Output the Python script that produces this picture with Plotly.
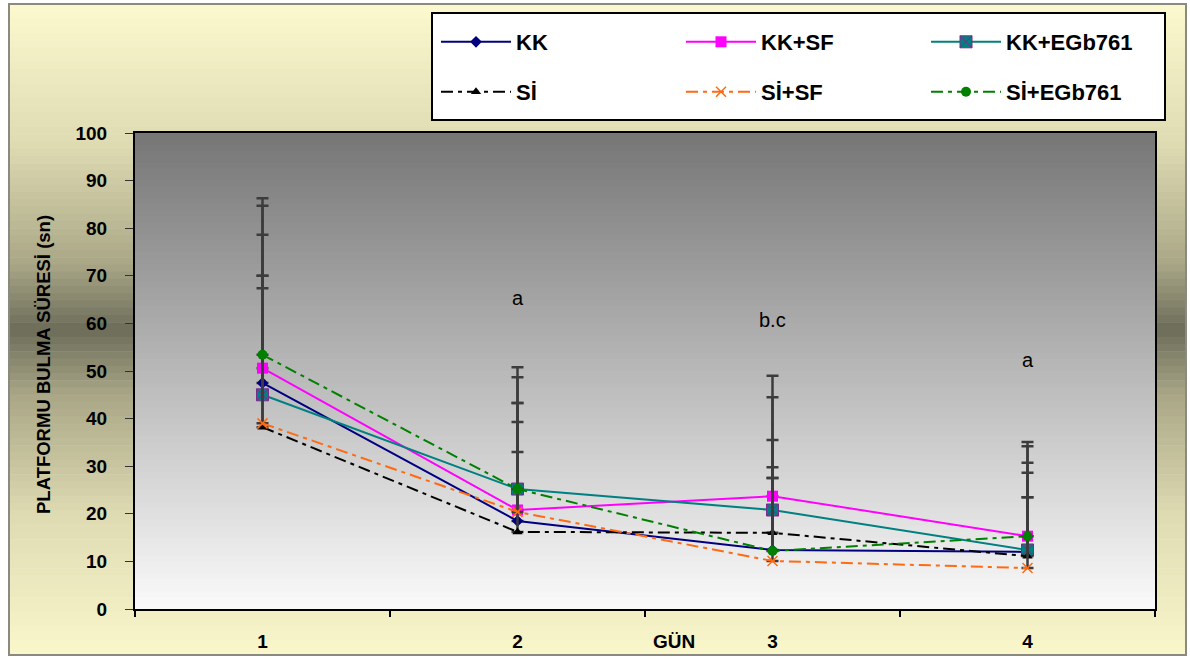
import plotly.graph_objects as go

# ---------------- data ----------------
days = ["1", "2", "3", "4"]
series_names = ["KK", "KK+SF", "KK+EGb761", "Sİ", "Sİ+SF", "Sİ+EGb761"]
kk          = [47.5, 18.5, 12.4, 12.0]
kk_sf       = [50.6, 20.8, 23.7, 15.3]
kk_egb      = [45.0, 25.2, 20.8, 12.4]
si          = [38.2, 16.2, 16.0, 11.1]
si_sf       = [39.0, 20.4, 10.1, 8.6]
si_egb      = [53.4, 25.2, 12.2, 15.3]
# upper error (SD)
kk_sd       = [31.1, 20.8, 17.4, 16.6]
kk_sf_sd    = [34.1, 22.5, 25.3, 19.8]
kk_egb_sd   = [25.0, 25.6, 23.7, 18.3]
si_sd       = [31.8, 16.8, 19.5, 12.4]
si_sf_sd    = [28.4, 22.9, 17.4, 14.9]
si_egb_sd   = [32.9, 23.5, 15.3, 18.9]
sig_day_idx = [1, 2, 3]          # category index of days 2, 3, 4
sig_labels  = ["a", "b.c", "a"]
sig_y       = [65.3, 60.7, 52.3]
y_ticks     = [0, 10, 20, 30, 40, 50, 60, 70, 80, 90, 100]

FONT = "Liberation Sans, Arial, sans-serif"
W, H = 1190, 659
L, R, T, B = 135, 1155, 133, 609  # plot area in px


def px_x(p):
    return (p - L) / (R - L)


def px_y(p):
    return (B - p) / (B - T)


def lerp(c1, c2, t):
    return "rgb(%d,%d,%d)" % tuple(round(a + (b - a) * t) for a, b in zip(c1, c2))


def grad(stops, t):
    for (t0, c0), (t1, c1) in zip(stops, stops[1:]):
        if t0 <= t <= t1:
            return lerp(c0, c1, (t - t0) / (t1 - t0) if t1 > t0 else 0)
    return lerp(stops[-1][1], stops[-1][1], 0)


shapes = []
# outer page gradient (yellow -> dark olive -> yellow)
outer_stops = [(0, (253, 250, 208)), (0.22, (222, 218, 178)), (0.40, (170, 167, 135)),
               (0.50, (108, 108, 90)), (0.60, (170, 167, 135)), (0.78, (222, 218, 178)),
               (1.0, (251, 248, 204))]
y0p, y1p = 4, 655
n = 90
for i in range(n):
    a = y0p + (y1p - y0p) * i / n
    b = y0p + (y1p - y0p) * (i + 1) / n
    c = grad(outer_stops, (a + b) / 2 / H)
    shapes.append(dict(type="rect", xref="paper", yref="paper", layer="below",
                       x0=px_x(9), x1=px_x(1186), y0=px_y(a), y1=px_y(b + 0.6),
                       fillcolor=c, line=dict(width=0)))
shapes.append(dict(type="rect", xref="paper", yref="paper", layer="below",
                   x0=px_x(9), x1=px_x(1186), y0=px_y(4), y1=px_y(655),
                   fillcolor="rgba(0,0,0,0)", line=dict(color="#8a8a80", width=2)))
# legend box background
shapes.append(dict(type="rect", xref="paper", yref="paper", layer="below",
                   x0=px_x(432), x1=px_x(1165), y0=px_y(13), y1=px_y(120),
                   fillcolor="white", line=dict(color="black", width=2)))
# plot area gradient (gray -> white)
m = 80
for i in range(m):
    a = i / m
    b = (i + 1) / m
    c = lerp((250, 250, 250), (118, 118, 118), (a + b) / 2)
    shapes.append(dict(type="rect", xref="x domain", yref="y domain", layer="below",
                       x0=0, x1=1, y0=a, y1=b + 0.004, fillcolor=c, line=dict(width=0)))

err_style = dict(type="data", symmetric=False, color="#3c3c3c", thickness=2.5, width=6)
dash_pat = "12px,5px,4px,5px"

specs = [
    ("KK", kk, kk_sd, dict(color="#000080", width=2), dict(symbol="diamond", size=9, color="#000080"), "legend"),
    ("KK+SF", kk_sf, kk_sf_sd, dict(color="#ff00ff", width=2), dict(symbol="square", size=11, color="#ff00ff"), "legend"),
    ("KK+EGb761", kk_egb, kk_egb_sd, dict(color="#008080", width=2),
     dict(symbol="square-x", size=12, color="#008080", line=dict(color="#7a2a8a", width=1)), "legend"),
    ("Sİ", si, si_sd, dict(color="black", width=2, dash=dash_pat),
     dict(symbol="triangle-up", size=9, color="black"), "legend2"),
    ("Sİ+SF", si_sf, si_sf_sd, dict(color="#ff6a13", width=2, dash=dash_pat),
     dict(symbol="x-thin", size=10, color="#ff6a13", line=dict(color="#ff6a13", width=1.5)), "legend2"),
    ("Sİ+EGb761", si_egb, si_egb_sd, dict(color="#008000", width=2, dash=dash_pat),
     dict(symbol="circle", size=10, color="#008000"), "legend2"),
]

fig = go.Figure()
for name, y, sd, line, marker, lg in specs:
    fig.add_trace(go.Scatter(
        x=days, y=y, name=name, mode="lines+markers", line=line, marker=marker,
        error_y=dict(array=sd, arrayminus=[0] * len(sd), **err_style),
        legend=lg,
    ))

annotations = []
for d, lab, yy in zip(sig_day_idx, sig_labels, sig_y):
    annotations.append(dict(x=d, y=yy, xref="x", yref="y", text=lab, showarrow=False,
                            font=dict(family=FONT, size=20, color="black")))
annotations.append(dict(x=px_x(674), y=px_y(641), xref="paper", yref="paper", text="GÜN",
                        showarrow=False, xanchor="center", yanchor="middle",
                        font=dict(family=FONT, size=19, color="black", weight="bold")))
annotations.append(dict(x=px_x(43), y=px_y(365), xref="paper", yref="paper",
                        text="PLATFORMU BULMA SÜRESİ (sn)", textangle=-90,
                        showarrow=False, xanchor="center", yanchor="middle",
                        font=dict(family=FONT, size=18.5, color="black", weight="bold")))

legend_common = dict(orientation="h", bgcolor="rgba(0,0,0,0)", borderwidth=0,
                     font=dict(family=FONT, size=22, color="black", weight="bold"),
                     entrywidth=160, entrywidthmode="pixels",
                     xref="container", yref="container",
                     xanchor="left", yanchor="middle", itemwidth=70)

fig.update_layout(
    width=W, height=H,
    margin=dict(l=L, r=W - R, t=T, b=H - B, autoexpand=False),
    paper_bgcolor="white", plot_bgcolor="rgba(0,0,0,0)",
    shapes=shapes, annotations=annotations,
    legend=dict(x=436 / W, y=1 - 42 / H, **legend_common),
    legend2=dict(x=436 / W, y=1 - 92 / H, **legend_common),
    xaxis=dict(type="category", tickson="boundaries", ticks="outside", ticklen=6,
               tickwidth=2, tickcolor="black", showgrid=False, zeroline=False,
               showline=True, linecolor="black", linewidth=2, mirror=True,
               tickfont=dict(family=FONT, size=19, color="black", weight="bold"),
               ticklabelstandoff=14, range=[-0.5, 3.5]),
    yaxis=dict(range=[0, 100], tickvals=y_ticks, ticks="outside", ticklen=8,
               tickwidth=1, tickcolor="#333", showgrid=False, zeroline=False,
               showline=True, linecolor="black", linewidth=2, mirror=True,
               tickfont=dict(family=FONT, size=19, color="black", weight="bold"),
               ticklabelstandoff=14),
)

fig.write_html("out.html", config={"displayModeBar": False},
               post_script="document.body.style.margin='0';document.body.style.padding='0';")
